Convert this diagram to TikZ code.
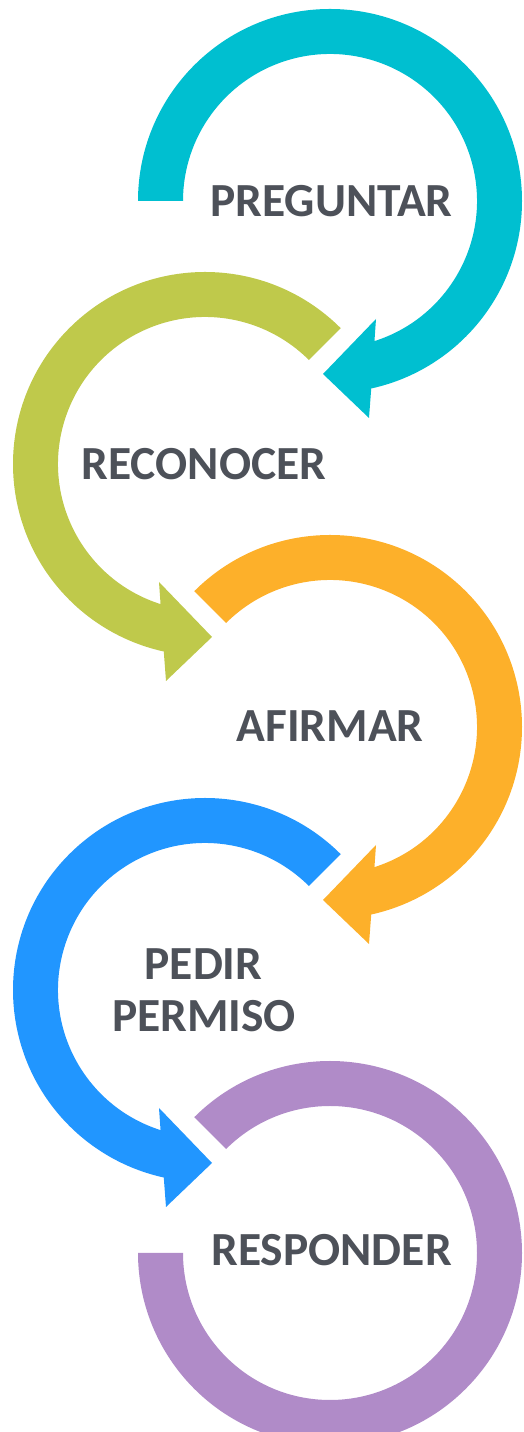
\documentclass[tikz,border=0pt]{standalone}
\usepackage{fontspec}
\setmainfont{Carlito}
\definecolor{cteal}{RGB}{0,191,208}
\definecolor{cgreen}{RGB}{191,201,75}
\definecolor{corange}{RGB}{253,176,42}
\definecolor{cblue}{RGB}{33,150,255}
\definecolor{cpurple}{RGB}{176,139,200}
\definecolor{ctext}{RGB}{77,81,89}
\tikzset{
  circarrow/.pic={
    \path[pic actions] (#1:192) arc[start angle=#1, end angle=-77.6, radius=192]
      -- (39,-217) -- (-7,-173) -- (46,-118) -- (-72.4:147)
      arc[start angle=-72.4, end angle=#1, radius=147] -- cycle;
  },
  circring/.pic={
    \path[pic actions] (135:192) arc[start angle=135, end angle=-180, radius=192]
      -- (180:147) arc[start angle=-180, end angle=135, radius=147] -- cycle;
  },
  lbl/.style={font=\bfseries\fontsize{47.5}{52}\selectfont, text=ctext, anchor=base, inner sep=0pt}
}
\begin{document}
\begin{tikzpicture}[x=1pt,y=1pt]
\useasboundingbox (0,0) rectangle (523,1432);
\coordinate (c1) at (330,1231);
\coordinate (c2) at (205,968);
\coordinate (c3) at (330,705);
\coordinate (c4) at (205,442);
\coordinate (c5) at (330,179);
\pic[fill=cteal] at (c1) {circarrow=180};
\pic[fill=cgreen, xscale=-1] at (c2) {circarrow=135};
\pic[fill=corange] at (c3) {circarrow=135};
\pic[fill=cblue, xscale=-1] at (c4) {circarrow=135};
\pic[fill=cpurple] at (c5) {circring};
\node[lbl] (t1) at (331.5,1215) {PREGUNTAR};
\node[lbl] (t2) at (204,952) {RECONOCER};
\node[lbl] (t3) at (330,690) {AFIRMAR};
\node[lbl] (t4a) at (203.5,452) {PEDIR};
\node[lbl] (t4b) at (204,400) {PERMISO};
\node[lbl] (t5) at (331.5,166) {RESPONDER};
\end{tikzpicture}
\end{document}
